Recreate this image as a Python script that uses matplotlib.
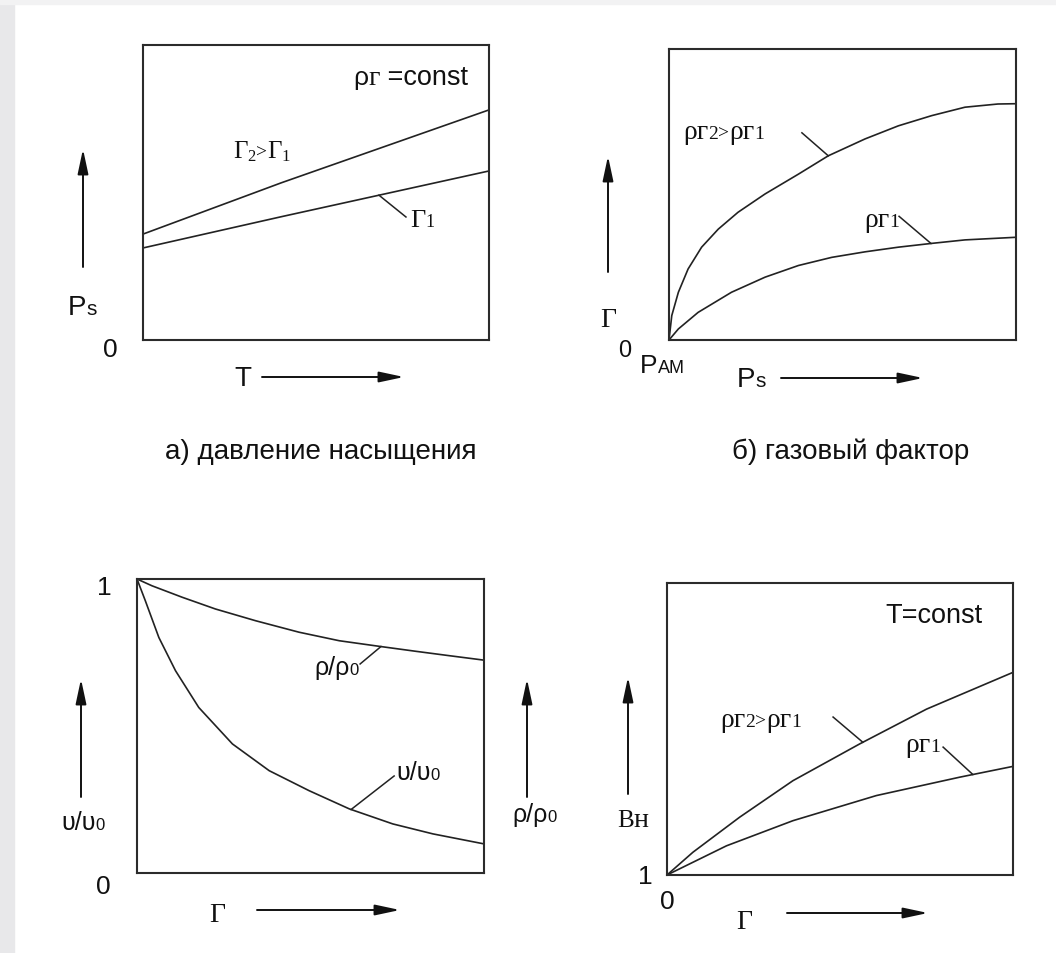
import numpy as np
import matplotlib
matplotlib.use('Agg')
import matplotlib.pyplot as plt
from matplotlib.patches import Rectangle

W, H = 1056, 954
SANS = ['Liberation Sans', 'DejaVu Sans']
SERIF = ['Liberation Serif', 'DejaVu Serif']
INK = '#222222'

# ── data (normalised to each box, 0..1) ──────────────────────────────────
# a) saturation pressure vs temperature
a_T = [0.0, 0.4, 1.0]
a_G2 = [0.359, 0.533, 0.780]
a_G1 = [0.312, 0.418, 0.573]

# b) gas factor vs saturation pressure
b_x2 = [0.0, 0.008, 0.027, 0.055, 0.094, 0.142, 0.199, 0.277, 0.373, 0.459,
        0.565, 0.661, 0.757, 0.853, 0.948, 1.0]
b_y2 = [0.0, 0.084, 0.164, 0.244, 0.319, 0.381, 0.439, 0.502, 0.570, 0.633,
        0.691, 0.736, 0.771, 0.800, 0.811, 0.812]
b_x1 = [0.0, 0.027, 0.084, 0.180, 0.277, 0.373, 0.469, 0.565, 0.661, 0.757,
        0.853, 1.0]
b_y1 = [0.0, 0.038, 0.095, 0.164, 0.216, 0.256, 0.284, 0.303, 0.319, 0.332,
        0.344, 0.353]

# c) relative density / viscosity vs gas factor
c_xr = [0.0, 0.043, 0.130, 0.226, 0.342, 0.467, 0.583, 0.698, 0.804, 0.901, 1.0]
c_rho = [1.0, 0.977, 0.938, 0.898, 0.858, 0.819, 0.790, 0.771, 0.754, 0.739, 0.724]
c_xv = [0.0, 0.024, 0.063, 0.111, 0.178, 0.275, 0.381, 0.496, 0.612, 0.737,
        0.853, 1.0]
c_nu = [1.0, 0.926, 0.801, 0.688, 0.563, 0.439, 0.348, 0.280, 0.218, 0.167,
        0.133, 0.099]

# d) volume factor vs gas factor
d_x2 = [0.0, 0.075, 0.210, 0.364, 0.557, 0.750, 1.0]
d_y2 = [0.0, 0.078, 0.198, 0.323, 0.449, 0.568, 0.694]
d_x1 = [0.0, 0.172, 0.364, 0.605, 0.846, 1.0]
d_y1 = [0.0, 0.100, 0.186, 0.272, 0.335, 0.372]

CAPTIONS = ['а) давление насыщения', 'б) газовый фактор']

# ── figure & pixel canvas ────────────────────────────────────────────────
fig = plt.figure(figsize=(W / 100, H / 100), dpi=100, facecolor='white')
fig.patches.append(Rectangle((0, 0), 14 / W, 1, transform=fig.transFigure,
                             color='#e8e8ea', zorder=0))
fig.patches.append(Rectangle((0, 1 - 5 / H), 1, 5 / H, transform=fig.transFigure,
                             color='#f2f2f3', zorder=0))

# overlay in pixel units for labels and arrows (on top of the boxes)
ax0 = fig.add_axes([0, 0, 1, 1])
ax0.set_xlim(0, W)
ax0.set_ylim(H, 0)
ax0.axis('off')
ax0.set_zorder(10)


def box(x0, y0, x1, y1):
    ax = fig.add_axes([x0 / W, 1 - y1 / H, (x1 - x0) / W, (y1 - y0) / H])
    ax.set_facecolor('none')
    ax.set_xlim(0, 1)
    ax.set_ylim(0, 1)
    ax.set_xticks([])
    ax.set_yticks([])
    for s in ax.spines.values():
        s.set_color('#2b2b2b')
        s.set_linewidth(1.5)
    return ax


def curve(ax, x, y):
    ax.plot(x, y, color=INK, lw=1.2, solid_joinstyle='round')


def leader(ax, x, y, at_x, tx, ty):
    # short pointer from a label to the curve at at_x
    ax.plot([at_x, tx], [np.interp(at_x, x, y), ty], color=INK, lw=1.1)


def arrow(x0, y0, x1, y1):
    ax0.annotate('', xy=(x1, y1), xytext=(x0, y0),
                 arrowprops=dict(arrowstyle='-|>,head_length=1.5,head_width=0.32',
                                 mutation_scale=10, lw=1.4, color='#111111',
                                 shrinkA=0, shrinkB=0))


def seq(x, y, parts):
    r = fig.canvas.get_renderer()
    for p in parts:
        s, size, fam = p[:3]
        dy = p[3] if len(p) > 3 else 0
        t = ax0.text(x, y + dy, s, fontsize=size, family=fam,
                     ha='left', va='baseline', color='#111111')
        x += t.get_window_extent(r).width


def txt(x, y, s, size=19, fam=SANS, ha='center', va='center'):
    ax0.text(x, y, s, fontsize=size, family=fam, ha=ha, va=va, color='#111111')


# ── a) ───────────────────────────────────────────────────────────────────
axa = box(143, 46, 489, 341)
curve(axa, a_T, a_G2)
curve(axa, a_T, a_G1)
leader(axa, a_T, a_G1, 0.682, 0.760, 0.417)
seq(353, 85, [('ρ', 19, SANS), ('г', 20, SERIF), (' =const', 19.5, SANS)])
seq(233, 158, [('Г', 18, SERIF), ('2', 12, SERIF, 3), ('>', 14, SERIF),
               ('Г', 18, SERIF), ('1', 12, SERIF, 3)])
seq(410, 227, [('Г', 19, SERIF), ('1', 13, SERIF)])
arrow(83, 268, 83, 150)
seq(68, 315, [('P', 20, SANS), ('s', 15, SANS)])
txt(110, 350, '0')
txt(243, 379, 'T', 20)
arrow(262, 378, 404, 378)
txt(321, 452, CAPTIONS[0], 20)

# ── b) ───────────────────────────────────────────────────────────────────
axb = box(669, 50, 1016, 341)
curve(axb, b_x2, b_y2)
curve(axb, b_x1, b_y1)
leader(axb, b_x2, b_y2, 0.459, 0.383, 0.712)
leader(axb, b_x1, b_y1, 0.755, 0.663, 0.425)
seq(683, 139, [('ρг', 20, SERIF), ('2', 14, SERIF), ('>', 14, SERIF),
               ('ρг', 20, SERIF), ('1', 14, SERIF)])
seq(864, 227, [('ρг', 20, SERIF), ('1', 14, SERIF)])
arrow(608, 273, 608, 157)
seq(600, 327, [('Г', 20, SERIF)])
txt(625, 351, '0', 17)
seq(640, 373, [('P', 19, SANS), ('АМ', 13, SANS)])
seq(737, 387, [('P', 20, SANS), ('s', 15, SANS)])
arrow(781, 379, 923, 379)
txt(851, 452, CAPTIONS[1], 20)

# ── c) ───────────────────────────────────────────────────────────────────
axc = box(137, 580, 484, 874)
curve(axc, c_xr, c_rho)
curve(axc, c_xv, c_nu)
leader(axc, c_xr, c_rho, 0.703, 0.643, 0.711)
leader(axc, c_xv, c_nu, 0.617, 0.741, 0.330)
seq(314, 675, [('ρ/ρ', 18, SANS), ('0', 12, SANS)])
seq(396, 780, [('υ/υ', 18, SANS), ('0', 12, SANS)])
txt(104, 588, '1')
txt(103, 887, '0')
arrow(81, 798, 81, 680)
seq(61, 830, [('υ/υ', 18, SANS), ('0', 12, SANS)])
arrow(527, 798, 527, 680)
seq(512, 822, [('ρ/ρ', 18, SANS), ('0', 12, SANS)])
seq(209, 922, [('Г', 20, SERIF)])
arrow(257, 911, 400, 911)

# ── d) ───────────────────────────────────────────────────────────────────
axd = box(667, 584, 1013, 876)
curve(axd, d_x2, d_y2)
curve(axd, d_x1, d_y1)
leader(axd, d_x2, d_y2, 0.566, 0.480, 0.541)
leader(axd, d_x1, d_y1, 0.884, 0.798, 0.438)
seq(885, 623, [('T=const', 19.5, SANS)])
seq(720, 727, [('ρг', 20, SERIF), ('2', 14, SERIF), ('>', 14, SERIF),
               ('ρг', 20, SERIF), ('1', 14, SERIF)])
seq(905, 752, [('ρг', 20, SERIF), ('1', 14, SERIF)])
arrow(628, 795, 628, 678)
seq(617, 827, [('В', 18, SERIF), ('н', 20, SERIF)])
txt(645, 877, '1')
txt(667, 902, '0')
seq(736, 929, [('Г', 20, SERIF)])
arrow(787, 914, 928, 914)

fig.savefig('out.png', dpi=100, facecolor='white')
